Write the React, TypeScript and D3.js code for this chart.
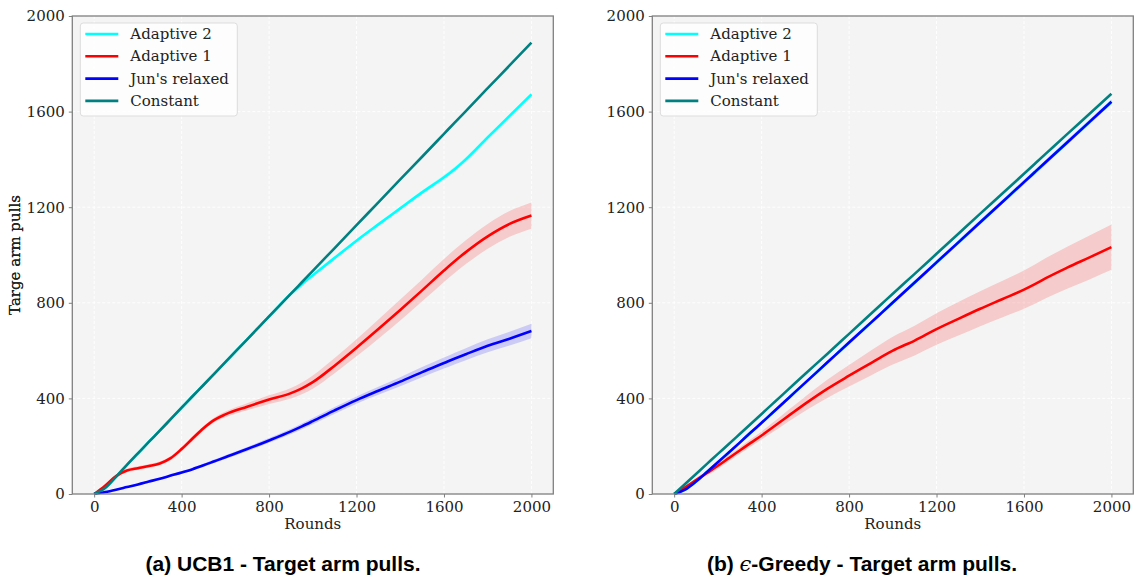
import React, { useEffect, useRef } from "react";
import * as d3 from "d3";

// sampled rounds shared by every series
const rounds = [0, 50, 100, 150, 200, 250, 300, 350, 400, 450, 500, 550, 600, 700, 800, 900, 950, 1000, 1100, 1200, 1300, 1400, 1500, 1600, 1650, 1700, 1800, 1900, 2000];

const seriesNames = ["Adaptive 2", "Adaptive 1", "Jun's relaxed", "Constant"];
const seriesColors = ["#00ffff", "#ff0000", "#0000ff", "#008080"];

// (a) UCB1
const ucbAdaptive2 = [0, 25, 72, 122, 170, 218, 265, 313, 361, 409, 456, 504, 552, 647, 743, 838, 878, 915, 988, 1060, 1128, 1195, 1262, 1325, 1360, 1400, 1492, 1582, 1672];
const ucbAdaptive2Sd = [0, 2, 3, 3, 3, 3, 3, 3, 3, 3, 3, 3, 3, 3, 3, 3, 4, 5, 6, 6, 6, 7, 8, 10, 10, 10, 8, 7, 7];
const ucbAdaptive1 = [0, 35, 75, 98, 108, 117, 128, 150, 188, 232, 275, 310, 333, 365, 395, 422, 442, 468, 537, 612, 690, 770, 852, 935, 975, 1012, 1078, 1130, 1165];
const ucbAdaptive1Sd = [0, 4, 6, 8, 8, 8, 8, 9, 10, 10, 10, 10, 12, 15, 18, 22, 25, 28, 32, 36, 40, 44, 46, 48, 49, 50, 52, 54, 55];
const ucbJun = [0, 8, 18, 29, 40, 52, 64, 77, 90, 104, 120, 137, 154, 188, 224, 262, 283, 305, 350, 393, 432, 470, 510, 548, 567, 585, 620, 650, 682];
const ucbJunSd = [0, 2, 3, 3, 4, 4, 5, 5, 6, 6, 7, 7, 8, 9, 10, 11, 12, 13, 14, 15, 17, 19, 21, 23, 24, 25, 27, 29, 30];
const ucbConstant = [0, 25, 72, 122, 170, 218, 265, 313, 361, 409, 456, 504, 552, 647, 743, 838, 886, 934, 1029, 1125, 1220, 1316, 1411, 1507, 1555, 1602, 1698, 1793, 1889];

// (b) epsilon-greedy
const egAdaptive2 = [0, 18, 52, 92, 133, 174, 215, 257, 298, 340, 382, 424, 466, 550, 634, 717, 759, 801, 885, 969, 1053, 1137, 1221, 1305, 1347, 1389, 1473, 1557, 1641];
const egAdaptive2Sd = [0, 3, 4, 5, 5, 5, 6, 6, 6, 6, 7, 7, 7, 7, 8, 8, 8, 8, 8, 9, 9, 9, 9, 10, 10, 10, 10, 10, 10];
const egAdaptive1 = [0, 28, 58, 88, 118, 150, 182, 214, 245, 278, 312, 345, 378, 440, 495, 548, 575, 600, 642, 690, 733, 775, 815, 855, 878, 903, 948, 990, 1033];
const egAdaptive1Sd = [0, 5, 8, 10, 12, 13, 14, 15, 17, 20, 23, 26, 30, 38, 45, 52, 55, 58, 62, 66, 70, 73, 76, 80, 82, 84, 88, 92, 95];
const egJun = [0, 18, 52, 92, 133, 174, 215, 257, 298, 340, 382, 424, 466, 550, 634, 717, 759, 801, 885, 969, 1053, 1137, 1221, 1305, 1347, 1389, 1473, 1557, 1641];
const egJunSd = [0, 3, 4, 5, 5, 5, 6, 6, 6, 6, 7, 7, 7, 7, 8, 8, 8, 8, 8, 9, 9, 9, 9, 10, 10, 10, 10, 10, 10];
const egConstant = [0, 42, 84, 126, 168, 209, 251, 293, 335, 377, 419, 461, 503, 586, 670, 754, 796, 838, 921, 1005, 1089, 1173, 1256, 1340, 1382, 1424, 1508, 1591, 1675];

const xTicks = [0, 400, 800, 1200, 1600, 2000];
const yTicks = [0, 400, 800, 1200, 1600, 2000];

const serif = "'DejaVu Serif', serif";

function drawPanel(svgNode, left, series) {
  var top = 16;
  var w = 481;
  var h = 478;

  var g = d3.select(svgNode).append("g")
    .attr("transform", `translate(${left}, ${top})`);

  var x = d3.scaleLinear().domain([-100, 2100]).range([0, w]);
  var y = d3.scaleLinear().domain([0, 2000]).range([h, 0]);

  // background
  g.append("rect")
    .attr("width", w)
    .attr("height", h)
    .attr("fill", "#f4f4f4");

  // grid
  g.selectAll(".vgrid")
    .data(xTicks)
    .join("line")
    .attr("x1", d => x(d)).attr("x2", d => x(d))
    .attr("y1", 0).attr("y2", h)
    .attr("stroke", "#ffffff")
    .attr("stroke-width", 0.9)
    .attr("stroke-dasharray", "3,2");
  g.selectAll(".hgrid")
    .data(yTicks)
    .join("line")
    .attr("x1", 0).attr("x2", w)
    .attr("y1", d => y(d)).attr("y2", d => y(d))
    .attr("stroke", "#ffffff")
    .attr("stroke-width", 0.9)
    .attr("stroke-dasharray", "3,2");

  var plot = g.append("g");

  // bands first, then lines
  series.forEach(s => {
    if (!s.sd) return;
    var area = d3.area()
      .x((d, i) => x(rounds[i]))
      .y0((d, i) => y(Math.max(0, d - s.sd[i])))
      .y1((d, i) => y(d + s.sd[i]))
      .curve(d3.curveMonotoneX);
    plot.append("path")
      .attr("d", area(s.values))
      .attr("fill", s.color)
      .attr("fill-opacity", 0.17);
  });

  series.forEach(s => {
    var line = d3.line()
      .x((d, i) => x(rounds[i]))
      .y(d => y(d))
      .curve(d3.curveMonotoneX);
    plot.append("path")
      .attr("d", line(s.values))
      .attr("fill", "none")
      .attr("stroke", s.color)
      .attr("stroke-width", 2.6);
  });

  // spines
  g.append("rect")
    .attr("width", w)
    .attr("height", h)
    .attr("fill", "none")
    .attr("stroke", "#7f7f7f")
    .attr("stroke-width", 1.3);

  // axes
  var fmt = d3.format("d");
  var xAxis = g.append("g")
    .attr("transform", `translate(0, ${h})`)
    .call(d3.axisBottom(x).tickValues(xTicks).tickFormat(fmt).tickSize(3.5).tickPadding(4));
  var yAxis = g.append("g")
    .call(d3.axisLeft(y).tickValues(yTicks).tickFormat(fmt).tickSize(3.5).tickPadding(4));
  [xAxis, yAxis].forEach(a => {
    a.select(".domain").remove();
    a.selectAll(".tick line").attr("stroke", "#7f7f7f").attr("stroke-width", 1);
    a.selectAll(".tick text")
      .attr("font-family", serif)
      .attr("font-size", 15)
      .attr("fill", "#222");
  });

  g.append("text")
    .attr("x", w / 2)
    .attr("y", h + 35)
    .attr("text-anchor", "middle")
    .attr("font-family", serif)
    .attr("font-size", 15)
    .attr("fill", "#222")
    .text("Rounds");

  g.append("text")
    .attr("transform", `translate(${-left + 20}, ${h / 2}) rotate(-90)`)
    .attr("text-anchor", "middle")
    .attr("font-family", serif)
    .attr("font-size", 15)
    .attr("fill", "#222")
    .text("Targe arm pulls");

  // legend
  var lg = g.append("g").attr("transform", "translate(8, 7)");
  lg.append("rect")
    .attr("width", 157)
    .attr("height", 93)
    .attr("rx", 3)
    .attr("fill", "#ffffff")
    .attr("fill-opacity", 0.8)
    .attr("stroke", "#dddddd");
  series.forEach((s, i) => {
    var yy = 11 + i * 22.3;
    lg.append("line")
      .attr("x1", 5).attr("x2", 38)
      .attr("y1", yy).attr("y2", yy)
      .attr("stroke", s.color)
      .attr("stroke-width", 2.6);
    lg.append("text")
      .attr("x", 50)
      .attr("y", yy + 5)
      .attr("font-family", serif)
      .attr("font-size", 15)
      .attr("fill", "#222")
      .text(s.name);
  });
}

export default function App() {
  const ref = useRef(null);

  useEffect(() => {
    var svg = ref.current;
    d3.select(svg).selectAll("*").remove();

    var ucb = [
      { values: ucbAdaptive2, sd: ucbAdaptive2Sd },
      { values: ucbAdaptive1, sd: ucbAdaptive1Sd },
      { values: ucbJun, sd: ucbJunSd },
      { values: ucbConstant, sd: null },
    ].map((s, i) => ({ ...s, name: seriesNames[i], color: seriesColors[i] }));

    var eg = [
      { values: egAdaptive2, sd: egAdaptive2Sd },
      { values: egAdaptive1, sd: egAdaptive1Sd },
      { values: egJun, sd: egJunSd },
      { values: egConstant, sd: null },
    ].map((s, i) => ({ ...s, name: seriesNames[i], color: seriesColors[i] }));

    drawPanel(svg, 72.3, ucb);
    drawPanel(svg, 652.3, eg);
  }, []);

  const caption = { fontFamily: "'Liberation Sans', Arial, sans-serif", fontWeight: "bold", fontSize: 21, fill: "#000" };

  return (
    <svg width={1137} height={581} style={{ position: "absolute", left: 0, top: 0, background: "#fff" }}>
      <g ref={ref}></g>
      <text x={283} y={571} textAnchor="middle" style={caption}>(a) UCB1 - Target arm pulls.</text>
      <text x={862} y={571} textAnchor="middle" style={caption}>
        (b) <tspan fontFamily="'DejaVu Serif', serif" fontStyle="italic" fontWeight="normal">ϵ</tspan>-Greedy - Target arm pulls.
      </text>
    </svg>
  );
}
